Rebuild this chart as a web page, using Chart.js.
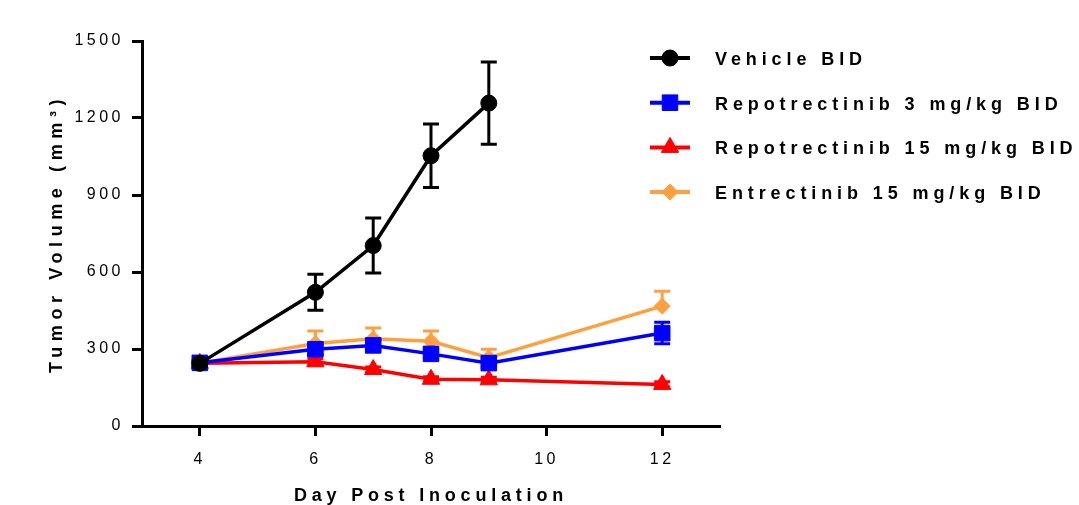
<!DOCTYPE html>
<html><head><meta charset="utf-8">
<script src="https://cdn.jsdelivr.net/npm/chart.js@4.4.1/dist/chart.umd.min.js"></script>
<style>html,body{margin:0;padding:0;background:#fff}canvas{display:block}</style>
</head><body>
<canvas id="c" width="1079" height="505"></canvas>
<script>
// ---- data ----
const days = [4, 6, 7, 8, 9, 12];
const xTickValues = [4, 6, 8, 10, 12];
const yTickValues = [0, 300, 600, 900, 1200, 1500];
const seriesLabels = ['Vehicle BID', 'Repotrectinib 3 mg/kg BID', 'Repotrectinib 15 mg/kg BID', 'Entrectinib 15 mg/kg BID'];
const vehicle      = [244, 521, 703, 1053, 1258, null];
const vehicleSem   = [10, 70, 107, 124, 160, null];
const repo3        = [246, 299, 314, 281, 245, 362];
const repo3Sem     = [8, 20, 20, 15, 12, 42];
const repo15       = [244, 250, 220, 182, 180, 162];
const repo15Sem    = [8, 12, 10, 10, 10, 10];
const entrec15     = [245, 321, 340, 330, 266, 467];
const entrec15Sem  = [8, 49, 42, 40, 33, 58];

const FONT = '"Liberation Sans", Arial, Helvetica, sans-serif';
const toPts = arr => days.map((d, i) => ({x: d, y: arr[i]})).filter(p => p.y !== null);

function ds(label, values, sem, color, style, radius, mode) {
  return {
    label, data: toPts(values), errors: sem, errorMode: mode,
    borderColor: color, backgroundColor: color,
    pointBackgroundColor: color, pointBorderColor: color,
    pointStyle: style, pointRadius: radius, pointHoverRadius: radius,
    pointBorderWidth: 1, borderWidth: 3.5, tension: 0, fill: false
  };
}

const errorBars = {
  id: 'errorBars',
  afterDatasetDraw(chart, args) {
    const d = chart.data.datasets[args.index];
    if (!d.errors) return;
    const ctx = chart.ctx, xs = chart.scales.x, ys = chart.scales.y;
    ctx.save();
    ctx.strokeStyle = d.borderColor;
    ctx.lineWidth = 3;
    d.data.forEach(p => {
      const e = d.errors[days.indexOf(p.x)];
      if (e == null) return;
      const x = xs.getPixelForValue(p.x);
      const yTop = ys.getPixelForValue(p.y + e);
      const yBot = d.errorMode === 'up' ? ys.getPixelForValue(p.y) : ys.getPixelForValue(p.y - e);
      ctx.beginPath();
      ctx.moveTo(x, yTop); ctx.lineTo(x, yBot);
      ctx.moveTo(x - 8, yTop); ctx.lineTo(x + 8, yTop);
      if (d.errorMode !== 'up') { ctx.moveTo(x - 8, yBot); ctx.lineTo(x + 8, yBot); }
      ctx.stroke();
    });
    ctx.restore();
  }
};

const spacing = {
  id: 'spacing',
  beforeDraw(chart) { chart.ctx.letterSpacing = '3.5px'; },
  afterLayout(chart) {
    Object.values(chart.scales).forEach(s => {
      if (s._spWrapped) return;
      s._spWrapped = true;
      const orig = s.drawTitle;
      const sp = s.id === 'y' ? '5.6px' : '4.8px';
      s.drawTitle = function (...a) {
        const c = this.ctx, prev = c.letterSpacing;
        c.letterSpacing = sp;
        orig.apply(this, a);
        c.letterSpacing = prev;
      };
    });
  }
};

const sideLegend = {
  id: 'sideLegend',
  afterDraw(chart) {
    const ctx = chart.ctx;
    ctx.save();
    chart.data.datasets.forEach((d, i) => {
      const y = 58 + i * 44.7;
      ctx.strokeStyle = d.borderColor; ctx.lineWidth = 4;
      ctx.beginPath(); ctx.moveTo(650, y); ctx.lineTo(690, y); ctx.stroke();
      ctx.fillStyle = d.borderColor; ctx.lineWidth = 1;
      Chart.helpers.drawPoint(ctx, {pointStyle: d.pointStyle, radius: d.pointRadius, borderWidth: 1, rotation: 0}, 670, y);
      ctx.fillStyle = '#000';
      ctx.font = 'bold 18px ' + FONT;
      ctx.letterSpacing = '4.9px';
      ctx.textAlign = 'left'; ctx.textBaseline = 'middle';
      ctx.fillText(d.label, 715, y + 2);
    });
    ctx.restore();
  }
};

const axisCommon = {
  border: {display: true, color: '#000', width: 3},
  grid: {display: true, drawOnChartArea: false, drawTicks: true, tickLength: 10, tickWidth: 3, tickColor: '#000', color: '#000'},
};

new Chart(document.getElementById('c'), {
  type: 'line',
  data: {
    datasets: [
      ds(seriesLabels[0], vehicle, vehicleSem, '#000000', 'circle', 8, 'both'),
      ds(seriesLabels[1], repo3, repo3Sem, '#0000FF', 'rect', 11, 'both'),
      ds(seriesLabels[2], repo15, repo15Sem, '#FF0000', 'triangle', 10, 'both'),
      ds(seriesLabels[3], entrec15, entrec15Sem, '#FFA040', 'rectRot', 8, 'up')
    ]
  },
  options: {
    responsive: false, animation: false, devicePixelRatio: 1,
    layout: {padding: {top: 41, right: 359, bottom: 0, left: 0}},
    plugins: {legend: {display: false}, tooltip: {enabled: false}, title: {display: false}},
    scales: {
      x: {
        type: 'linear', min: 3, max: 13, ...axisCommon,
        afterBuildTicks: s => { s.ticks = xTickValues.map(v => ({value: v})); },
        afterFit: s => { s.height = 79; },
        ticks: {color: '#000', font: {family: FONT, size: 16}, padding: 14, autoSkip: false, maxRotation: 0, callback: v => String(v)},
        title: {display: true, text: 'Day Post Inoculation', color: '#000', font: {family: FONT, size: 18, weight: 'bold', lineHeight: 1}, padding: {top: 0, bottom: 0}}
      },
      y: {
        type: 'linear', min: 0, max: 1500, ...axisCommon,
        afterBuildTicks: s => { s.ticks = yTickValues.map(v => ({value: v})); },
        afterFit: s => { s.width = 142; },
        ticks: {color: '#000', font: {family: FONT, size: 16}, padding: 8, callback: v => String(v)},
        title: {display: true, text: 'Tumor Volume (mm³)', color: '#000', font: {family: FONT, size: 18, weight: 'bold', lineHeight: 1}, padding: {top: 48, bottom: 0}}
      }
    }
  },
  plugins: [spacing, errorBars, sideLegend]
});
</script>
</body></html>
